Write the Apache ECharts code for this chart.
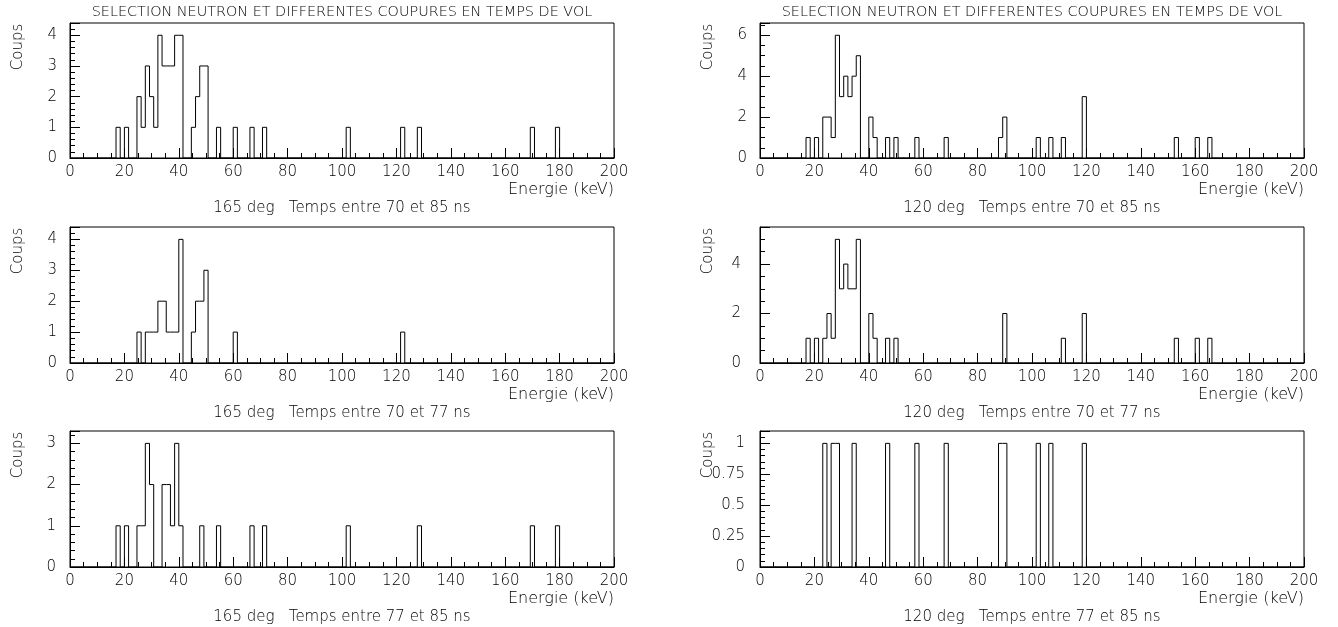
<!DOCTYPE html>
<html><head><meta charset="utf-8">
<script src="https://cdn.jsdelivr.net/npm/echarts@6/dist/echarts.min.js"></script>
<style>html,body{margin:0;padding:0;background:#fff}#c{width:1338px;height:627px}</style>
</head><body><div id="c"></div>
<script>
// Histogram: 130 bins over 0-200 keV
const binCount = 130;
const xRange = [0, 200];
const xTickStep = 20;

const mainTitle = 'SELECTION NEUTRON ET DIFFERENTES COUPURES EN TEMPS DE VOL';
const subTitles = [
  '165 deg   Temps entre 70 et 85 ns',
  '120 deg   Temps entre 70 et 85 ns',
  '165 deg   Temps entre 70 et 77 ns',
  '120 deg   Temps entre 70 et 77 ns',
  '165 deg   Temps entre 77 et 85 ns',
  '120 deg   Temps entre 77 et 85 ns'
];
const xName = 'Energie (keV)';
const yName = 'Coups';

// non-empty bins (bin index) and their counts, per panel
const p1Bins   = [11,13,16,17,18,19,20,21,22,23,24,25,26,29,30,31,32,35,39,43,46,66,79,83,110,116];
const p1Counts = [ 1, 1, 2, 1, 3, 2, 1, 4, 3, 3, 3, 4, 4, 1, 2, 3, 3, 1, 1, 1, 1, 1, 1, 1,  1,  1];

const p2Bins   = [11,13,15,16,17,18,19,20,21,22,23,26,27,30,32,37,44,57,58,66,69,72,77,99,104,107];
const p2Counts = [ 1, 1, 2, 2, 1, 6, 3, 4, 3, 4, 5, 2, 1, 1, 1, 1, 1, 1, 2, 1, 1, 1, 3, 1,  1,  1];

const p3Bins   = [16,18,19,20,21,22,23,24,25,26,29,30,31,32,39,79];
const p3Counts = [ 1, 1, 1, 1, 2, 2, 1, 1, 1, 4, 1, 2, 2, 3, 1, 1];

const p4Bins   = [11,13,15,16,17,18,19,20,21,22,23,26,27,30,32,58,72,77,99,104,107];
const p4Counts = [ 1, 1, 1, 2, 1, 5, 3, 4, 3, 3, 5, 2, 1, 1, 1, 2, 1, 2, 1,  1,  1];

const p5Bins   = [11,13,16,17,18,19,22,23,24,25,26,31,35,43,46,66,83,110,116];
const p5Counts = [ 1, 1, 1, 1, 3, 2, 2, 2, 1, 3, 1, 1, 1, 1, 1, 1, 1,  1,  1];

const p6Bins   = [15,17,18,22,30,37,44,57,58,66,69,77];
const p6Counts = [ 1, 1, 1, 1, 1, 1, 1, 1, 1, 1, 1, 1];

const yMaxes     = [4.4, 6.6, 4.4, 5.5, 3.3, 1.1];
const yIntervals = [1, 2, 1, 2, 1, 0.25];

const panels = [
  [p1Bins, p1Counts], [p2Bins, p2Counts],
  [p3Bins, p3Counts], [p4Bins, p4Counts],
  [p5Bins, p5Counts], [p6Bins, p6Counts]
];

// layout
const colLeft = [70, 760];
const plotW = 544;
const rowTop = [23, 227, 431];
const plotH = [135, 136, 136];
const yMinorSplit = [5, 4, 5, 4, 5, 5];
const yLabelMargin = [13, 13, 13, 19, 14, 15];
const FONT = 'DejaVu Sans';
const FW = 200;

function histData(bins, counts) {
  const arr = new Array(binCount).fill(0);
  bins.forEach((b, i) => { arr[b] = counts[i]; });
  const w = (xRange[1] - xRange[0]) / binCount;
  const d = arr.map((c, i) => [xRange[0] + i * w, c]);
  d.push([xRange[1], 0]);
  return d;
}

function font(size) { return FW + ' ' + size + 'px "' + FONT + '"'; }

const grids = [], xAxes = [], yAxes = [], series = [], graphics = [];
for (let i = 0; i < 6; i++) {
  const col = i % 2, row = Math.floor(i / 2);
  const left = colLeft[col], top = rowTop[row], h = plotH[row];
  grids.push({ left: left, top: top, width: plotW, height: h, show: true,
    borderColor: '#000', borderWidth: 1, backgroundColor: 'transparent' });
  xAxes.push({ type: 'value', gridIndex: i, min: xRange[0], max: xRange[1], interval: xTickStep,
    axisLine: { show: true, onZero: false, lineStyle: { color: '#000', width: 1 } },
    axisTick: { show: true, inside: true, length: 10, lineStyle: { color: '#000' } },
    minorTick: { show: true, splitNumber: 4, length: 5, lineStyle: { color: '#000' } },
    splitLine: { show: false }, minorSplitLine: { show: false },
    axisLabel: { color: '#000', fontSize: 15, fontWeight: FW, fontFamily: FONT, margin: 7, showMinLabel: true, showMaxLabel: true }
  });
  yAxes.push({ type: 'value', gridIndex: i, min: 0, max: yMaxes[i], interval: yIntervals[i],
    axisLine: { show: true, lineStyle: { color: '#000', width: 1 } },
    axisTick: { show: true, inside: true, length: 10, lineStyle: { color: '#000' } },
    minorTick: { show: true, splitNumber: yMinorSplit[i], length: 5, lineStyle: { color: '#000' } },
    splitLine: { show: false }, minorSplitLine: { show: false },
    axisLabel: { color: '#000', fontSize: 15, fontWeight: FW, fontFamily: FONT, margin: yLabelMargin[i], showMaxLabel: false, showMinLabel: true }
  });
  series.push({ type: 'line', xAxisIndex: i, yAxisIndex: i, step: 'end', symbol: 'none',
    data: histData(panels[i][0], panels[i][1]),
    lineStyle: { color: '#000', width: 1 }, animation: false, z: 5 });

  const cx = left + plotW / 2;
  graphics.push({ type: 'text', x: cx, y: top + h + 50, style: { text: subTitles[i], font: font(15), fill: '#000', align: 'center', verticalAlign: 'middle' } });
  graphics.push({ type: 'text', x: left + plotW, y: top + h + 32, style: { text: xName, font: font(16), fill: '#000', align: 'right', verticalAlign: 'middle' } });
  graphics.push({ type: 'text', x: left - 52, y: top + 24, rotation: Math.PI / 2, style: { text: yName, font: font(15), fill: '#000', align: 'center', verticalAlign: 'middle' } });
  if (row === 0) {
    graphics.push({ type: 'text', x: cx, y: 12, style: { text: mainTitle, font: font(14.4), fill: '#000', align: 'center', verticalAlign: 'middle' } });
  }
}

const chart = echarts.init(document.getElementById('c'), null, { renderer: 'canvas' });
chart.setOption({
  animation: false,
  backgroundColor: '#fff',
  grid: grids, xAxis: xAxes, yAxis: yAxes, series: series, graphic: graphics
});
</script>
</body></html>
